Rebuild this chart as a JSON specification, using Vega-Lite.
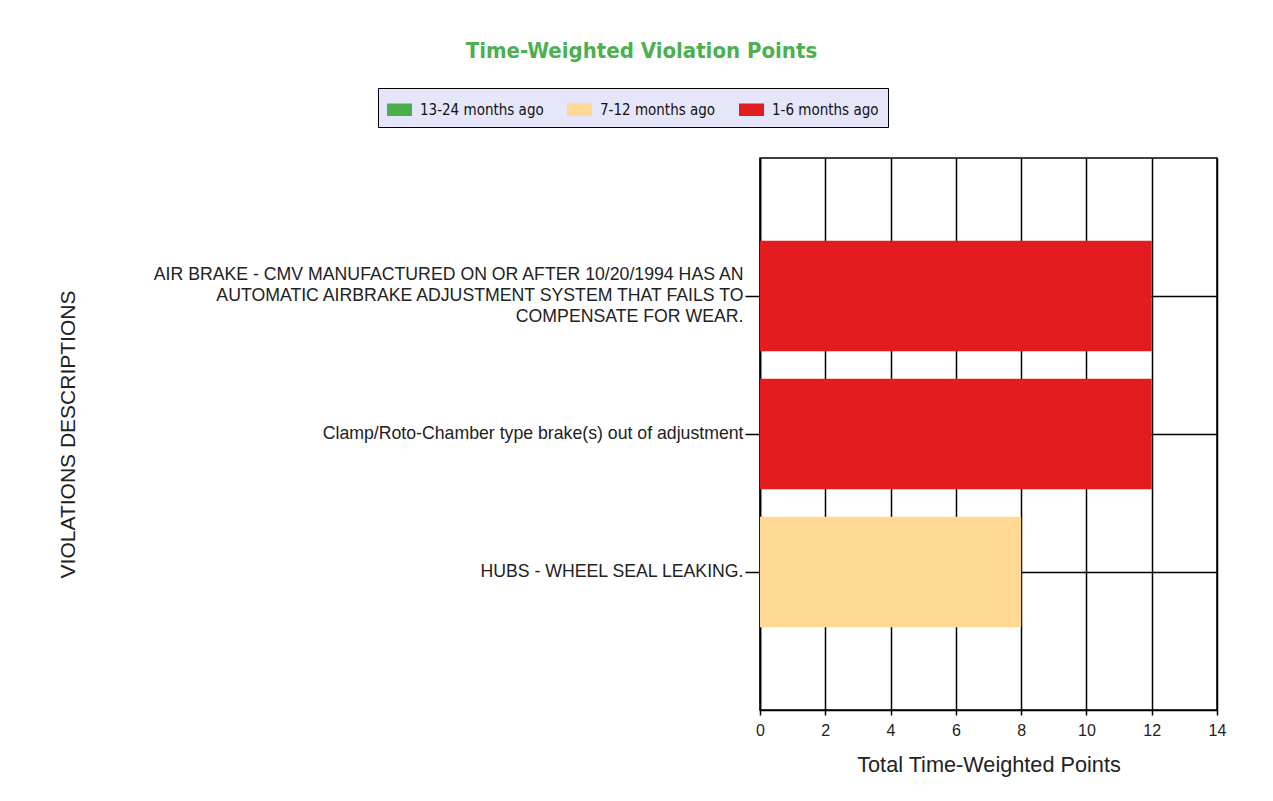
{
  "$schema": "https://vega.github.io/schema/vega-lite/v6.json",
  "width": 457,
  "height": 552,
  "autosize": {"type": "none"},
  "padding": {"left": 760, "top": 158, "right": 56, "bottom": 91},
  "background": "white",
  "title": {
    "text": "Time-Weighted Violation Points",
    "color": "#4CAF50",
    "font": "DejaVu Sans Condensed",
    "fontWeight": "bold",
    "fontSize": 22,
    "anchor": "middle",
    "frame": "bounds",
    "offset": 25
  },
  "data": {
    "values": [
      {"violation": "AIR BRAKE - CMV MANUFACTURED ON OR AFTER 10/20/1994 HAS AN|AUTOMATIC AIRBRAKE ADJUSTMENT SYSTEM THAT FAILS TO|COMPENSATE FOR WEAR.", "period": "1-6 months ago", "points": 12},
      {"violation": "Clamp/Roto-Chamber type brake(s) out of adjustment", "period": "1-6 months ago", "points": 12},
      {"violation": "HUBS - WHEEL SEAL LEAKING.", "period": "7-12 months ago", "points": 8}
    ]
  },
  "mark": {"type": "bar"},
  "encoding": {
    "y": {
      "field": "violation",
      "type": "nominal",
      "sort": null,
      "scale": {"paddingInner": 0.2, "paddingOuter": 0.6},
      "axis": {
        "title": "VIOLATIONS DESCRIPTIONS",
        "titleFont": "Liberation Sans",
        "titleFontSize": 21,
        "titleFontWeight": "normal",
        "titleColor": "#222222",
        "titleX": -692,
        "titleY": 276,
        "titleAngle": -90,
        "titleAlign": "center",
        "titleBaseline": "middle",
        "labelExpr": "split(datum.label, '|')",
        "labelFont": "Liberation Sans",
        "labelFontSize": 17.7,
        "labelColor": "#222222",
        "labelLineHeight": 21,
        "labelLimit": 800,
        "labelPadding": 2,
        "labelOffset": {"condition": {"test": "indexof(datum.value, '|') >= 0", "value": -21}, "value": 0},
        "tickSize": 15,
        "tickColor": "#000000",
        "tickWidth": 1.5,
        "domainColor": "#000000",
        "domainWidth": 1.5,
        "grid": true,
        "gridColor": "#000000",
        "gridWidth": 1.5,
        "bandPosition": 0.5
      }
    },
    "x": {
      "field": "points",
      "type": "quantitative",
      "scale": {"domain": [0, 14], "nice": false},
      "axis": {
        "title": "Total Time-Weighted Points",
        "titleFont": "Liberation Sans",
        "titleFontSize": 21.7,
        "titleFontWeight": "normal",
        "titleColor": "#222222",
        "titlePadding": 16,
        "values": [0, 2, 4, 6, 8, 10, 12, 14],
        "labelFlush": false,
        "labelFont": "Liberation Sans",
        "labelFontSize": 16,
        "labelColor": "#222222",
        "labelPadding": 7,
        "tickSize": 5,
        "tickColor": "#000000",
        "tickWidth": 1.5,
        "domainColor": "#000000",
        "domainWidth": 1.5,
        "grid": true,
        "gridColor": "#000000",
        "gridWidth": 1.5
      }
    },
    "color": {
      "field": "period",
      "type": "nominal",
      "scale": {
        "domain": ["13-24 months ago", "7-12 months ago", "1-6 months ago"],
        "range": ["#4DAF4A", "#FFD993", "#E41C1F"]
      },
      "legend": {
        "title": null,
        "orient": "none",
        "legendX": -382,
        "legendY": -70,
        "direction": "horizontal",
        "fillColor": "#E6E6FA",
        "strokeColor": "#000000",
        "padding": 9,
        "columnPadding": 23,
        "symbolType": "M-1,-0.5H1V0.5H-1Z",
        "symbolSize": 625,
        "symbolStrokeWidth": 0,
        "labelFont": "DejaVu Sans Condensed",
        "labelFontSize": 15,
        "labelColor": "#111111",
        "labelOffset": 8
      }
    }
  },
  "config": {
    "view": {"stroke": "#000000", "strokeWidth": 1.5}
  }
}
